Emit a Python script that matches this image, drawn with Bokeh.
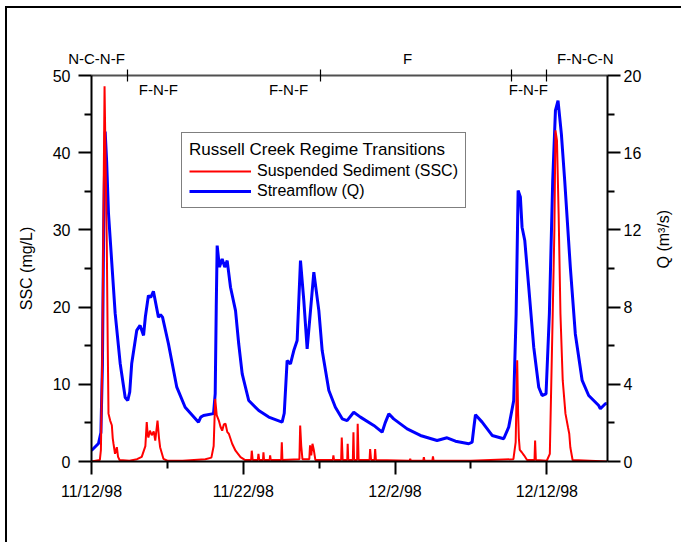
import math
from bokeh.plotting import figure
from bokeh.models import Range1d, LinearAxis, FixedTicker, Legend, LegendItem
from bokeh.core.properties import value
from bokeh.embed import file_html
from bokeh.resources import INLINE

# ---- data (x = days since 11/12/98 00:00) ----
Q_DAY = [0.00, 0.46, 0.62, 0.72, 0.80, 0.90, 1.00, 1.12, 1.34, 1.56, 1.89, 2.22, 2.39, 2.52,
         2.65, 2.98, 3.20, 3.43, 3.55, 3.75, 3.90, 4.08, 4.41, 4.55, 4.68, 5.07, 5.62, 6.17,
         7.05, 7.20, 7.38, 8.04, 8.15, 8.22, 8.28, 8.43, 8.61, 8.78, 8.94, 9.16, 9.49, 9.70,
         9.93, 10.36, 11.02, 11.68, 12.56, 12.70, 12.89, 13.11, 13.33, 13.55, 13.77, 13.99,
         14.21, 14.43, 14.65, 14.98, 15.20, 15.64, 16.07, 16.52, 16.84, 17.28, 17.72, 18.60,
         19.15, 19.35, 19.59, 19.91, 20.80, 21.67, 22.77, 23.43, 23.98, 24.86, 25.08, 25.20,
         25.30, 25.74, 26.40, 27.16, 27.49, 27.82, 27.98, 28.11, 28.26, 28.37, 28.55, 28.81,
         29.14, 29.47, 29.69, 29.95, 30.17, 30.39, 30.57, 30.74, 30.96, 31.18, 31.55, 31.88,
         32.33, 32.76, 33.42, 33.53, 33.86, 33.95]
Q_M3S = [0.57, 0.93, 1.50, 5.00, 12.0, 17.1, 15.5, 12.85, 10.26, 7.67, 5.08, 3.32, 3.16, 3.60,
         5.08, 6.79, 7.05, 6.53, 7.50, 8.60, 8.50, 8.82, 7.48, 7.60, 7.48, 6.10, 3.85, 2.81,
         2.04, 2.30, 2.38, 2.48, 3.50, 8.00, 11.19, 10.07, 10.50, 10.07, 10.41, 9.03, 7.82, 6.10,
         4.54, 3.16, 2.64, 2.30, 2.04, 2.50, 5.23, 5.06, 5.75, 6.27, 10.41, 8.34,
         5.84, 7.82, 9.81, 7.82, 5.75, 3.68, 2.81, 2.21, 2.12, 2.55, 2.30, 1.87,
         1.52, 2.00, 2.47, 2.21, 1.69, 1.35, 1.09, 1.23, 1.05, 0.92, 1.00, 1.80,
         2.42, 2.04, 1.35, 1.18, 1.78, 3.16, 7.65, 14.04, 13.70, 12.14, 11.45, 9.03,
         5.92, 3.85, 3.42, 3.50, 7.65, 14.56, 18.19, 18.70, 16.98, 14.56, 10.07, 6.61,
         4.20, 3.42, 2.90, 2.73, 2.99, 3.00]

SSC_DAY = [0.00, 0.55, 0.62, 0.72, 0.80, 0.86, 0.92, 1.01, 1.07, 1.12, 1.23, 1.34, 1.40, 1.45,
           1.55, 1.67, 1.75, 1.85, 2.50, 3.00, 3.31, 3.55, 3.64, 3.70, 3.75, 3.85, 3.97, 4.10,
           4.20, 4.35, 4.45, 4.52, 4.74, 5.00, 6.00, 7.50, 7.90, 8.05, 8.15, 8.25, 8.39, 8.50,
           8.61, 8.72, 8.83, 8.95, 9.05, 9.27, 9.49, 9.82, 10.10, 10.52, 10.56, 10.62, 10.96,
           11.00, 11.05, 11.30, 11.33, 11.37, 11.74, 11.77, 11.81, 12.50, 12.54, 12.58, 13.70,
           13.75, 13.82, 13.90, 14.35, 14.40, 14.48, 14.56, 14.64, 14.75, 15.90, 15.94, 15.98,
           16.45, 16.49, 16.55, 16.85, 16.88, 16.92, 17.22, 17.26, 17.30, 17.50, 17.54, 17.60,
           18.32, 18.36, 18.42, 18.65, 18.69, 18.74, 20.96, 21.00, 21.04, 21.86, 21.90, 21.94,
           22.46, 22.50, 22.54, 25.00, 27.80, 27.95, 28.05, 28.11, 28.16, 28.22, 28.35, 28.50,
           28.70, 29.19, 29.23, 29.28, 30.00, 30.20, 30.39, 30.50, 30.57, 30.67, 30.78, 30.90,
           31.05, 31.23, 31.40, 31.48, 31.55, 31.70, 33.95]
SSC_MGL = [0.0, 0.2, 1.5, 14.8, 35.0, 48.6, 40.0, 27.8, 15.0, 6.2, 5.3, 4.7, 3.0, 2.3,
           1.0, 1.85, 0.6, 0.2, 0.1, 0.3, 0.6, 2.0, 5.1, 3.5, 3.1, 4.0, 3.4, 3.9,
           2.7, 5.3, 3.0, 1.85, 0.35, 0.1, 0.1, 0.3, 0.5, 2.0, 8.1, 6.0, 5.3, 4.5,
           4.0, 4.8, 4.9, 3.8, 3.6, 2.3, 1.4, 0.56, 0.2, 0.2, 1.4, 0.2, 0.2,
           1.0, 0.2, 0.2, 1.2, 0.2, 0.2, 0.8, 0.2, 0.2, 2.5, 0.2, 0.3,
           4.66, 2.0, 0.3, 0.3, 2.1, 0.8, 2.3, 1.6, 0.2, 0.2, 0.8, 0.2,
           0.2, 3.1, 0.2, 0.2, 2.3, 0.2, 0.2, 3.8, 0.2, 0.2, 4.9, 0.2,
           0.2, 1.6, 0.2, 0.2, 1.6, 0.2, 0.1, 0.35, 0.1, 0.1, 0.56, 0.1,
           0.1, 0.65, 0.1, 0.1, 0.3, 2.5, 13.1, 6.2, 3.0, 1.5, 1.2, 0.8,
           0.2, 0.2, 2.7, 0.2, 0.1, 1.0, 19.1, 30.0, 42.9, 41.6, 32.1, 19.1,
           10.5, 6.2, 4.4, 3.6, 1.85, 0.2, 0.0]

DATE_TICKS = [0, 10, 20, 30]
DATE_LABELS = ["11/12/98", "11/22/98", "12/2/98", "12/12/98"]
DATE_MINOR = [5, 15, 25]
SSC_TICKS = [0, 10, 20, 30, 40, 50]
SSC_MINOR = [5, 15, 25, 35, 45]
Q_TICKS = [0, 4, 8, 12, 16, 20]
Q_MINOR = [2, 6, 10, 14, 18]

REGIME_TICKS = [2.37, 15.09, 27.67, 29.97]
REGIME_ABOVE_X = [0.33, 20.82, 32.54]
REGIME_ABOVE = ["N-C-N-F", "F", "F-N-C-N"]
REGIME_BELOW_X = [4.41, 12.98, 28.79]
REGIME_BELOW = ["F-N-F", "F-N-F", "F-N-F"]

# ---- layout ----
X_END = 34
SSC_MAX = 50
Q_MAX = 20
FRAME_H = 386
FRAME_W = 516
PX = FRAME_H / SSC_MAX          # px per mg/L
FONT = "Liberation Sans"

p = figure(frame_width=FRAME_W, frame_height=FRAME_H,
           min_border_left=84, min_border_right=74, min_border_top=67, min_border_bottom=81,
           x_range=Range1d(0, X_END), y_range=Range1d(0, SSC_MAX),
           output_backend="svg", toolbar_location=None)
p.extra_y_ranges = {"q": Range1d(0, Q_MAX)}
p.styles = {"border-left": "2px solid black", "border-top": "2px solid black",
            "margin-left": "5px", "margin-top": "6px"}
p.outline_line_color = None
p.xgrid.visible = False
p.ygrid.visible = False
p.background_fill_color = "white"
p.border_fill_color = "white"


def style_axis(ax):
    ax.axis_line_color = "black"
    ax.axis_line_width = 2
    ax.major_tick_line_color = "black"
    ax.major_tick_line_width = 2
    ax.minor_tick_line_color = "black"
    ax.minor_tick_line_width = 2
    ax.major_tick_in = 0
    ax.major_tick_out = 13
    ax.minor_tick_in = 0
    ax.minor_tick_out = 7
    ax.major_label_text_font = FONT
    ax.major_label_text_font_size = "16px"
    ax.major_label_text_color = "black"
    ax.axis_label_text_font = FONT
    ax.axis_label_text_font_size = "16px"
    ax.axis_label_text_font_style = "normal"
    ax.axis_label_text_color = "black"


xa = p.xaxis[0]
style_axis(xa)
xa.ticker = FixedTicker(ticks=DATE_TICKS, minor_ticks=DATE_MINOR)
xa.major_label_overrides = {t: s for t, s in zip(DATE_TICKS, DATE_LABELS)}
xa.major_label_standoff = 8

ya = p.yaxis[0]
style_axis(ya)
ya.ticker = FixedTicker(ticks=SSC_TICKS, minor_ticks=SSC_MINOR)
ya.axis_label = "SSC (mg/L)"
ya.major_label_standoff = 8
ya.axis_label_standoff = 15

ra = LinearAxis(y_range_name="q")
style_axis(ra)
ra.ticker = FixedTicker(ticks=Q_TICKS, minor_ticks=Q_MINOR)
ra.axis_label = "Q (m\u00b3/s)"
ra.major_label_standoff = 3
ra.axis_label_standoff = 19
if "axis_label_orientation" in LinearAxis.properties():
    ra.axis_label_orientation = math.pi / 2
p.add_layout(ra, "right")

# small empty spacer so that the regime line sits a few px above the frame
spacer = LinearAxis(ticker=FixedTicker(ticks=[]), axis_line_color=None,
                    major_tick_in=0, major_tick_out=5, minor_tick_in=0, minor_tick_out=0,
                    major_tick_line_color=None, minor_tick_line_color=None,
                    major_label_standoff=0, major_label_text_font_size="0px")
p.add_layout(spacer, "above")

# regime transition axis on top (labels above the line)
reg = LinearAxis(ticker=FixedTicker(ticks=REGIME_ABOVE_X, minor_ticks=REGIME_TICKS))
reg.major_label_overrides = {t: s for t, s in zip(REGIME_ABOVE_X, REGIME_ABOVE)}
reg.axis_line_color = "#505050"
reg.axis_line_width = 2
reg.major_tick_line_color = None
reg.major_tick_in = 0
reg.major_tick_out = 0
reg.minor_tick_line_color = "black"
reg.minor_tick_line_width = 1.2
reg.minor_tick_in = 6
reg.minor_tick_out = 6
reg.major_label_standoff = 3
reg.major_label_text_font = FONT
reg.major_label_text_font_size = "15px"
reg.major_label_text_color = "black"
p.add_layout(reg, "above")

# regime labels below the line
p.text(x=REGIME_BELOW_X, y=[SSC_MAX - 14 / PX] * len(REGIME_BELOW_X), text=REGIME_BELOW,
       text_font=value(FONT), text_font_size="15px", text_align="center",
       text_baseline="middle", text_color="black")

blue = p.line(Q_DAY, Q_M3S, y_range_name="q", line_color="#0000FF", line_width=3)
red = p.line(SSC_DAY, SSC_MGL, line_color="#FF0000", line_width=2)

legend = Legend(items=[LegendItem(label="Suspended Sediment (SSC)", renderers=[red]),
                       LegendItem(label="Streamflow (Q)", renderers=[blue])],
                location=(90, 253))
legend.title = "Russell Creek Regime Transitions"
legend.title_text_font = FONT
legend.title_text_font_size = "17px"
legend.title_text_font_style = "normal"
legend.title_text_color = "black"
legend.title_standoff = 2
legend.label_text_font = FONT
legend.label_text_font_size = "16px"
legend.label_text_color = "black"
legend.glyph_width = 62
legend.glyph_height = 18
legend.label_height = 18
legend.label_standoff = 6
legend.spacing = 2
legend.padding = 7
legend.margin = 0
legend.border_line_color = "black"
legend.border_line_width = 1.5
legend.background_fill_alpha = 1
p.add_layout(legend, "center")

open("out.html", "w").write(file_html(p, INLINE))
